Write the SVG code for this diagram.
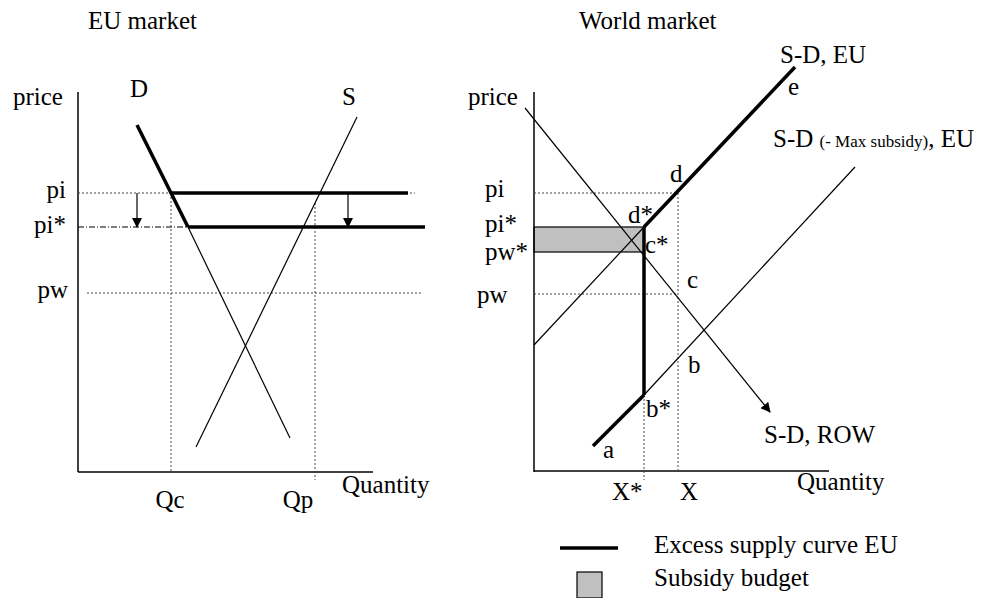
<svg xmlns="http://www.w3.org/2000/svg" width="994" height="598" viewBox="0 0 994 598">
<style>
text{font-family:"Liberation Serif","Times New Roman",serif;font-size:25px;fill:#000}
.small{font-size:17px}
.ax{stroke:#000;stroke-width:1.5;fill:none}
.thin{stroke:#000;stroke-width:1.2;fill:none}
.thick{stroke:#000;stroke-width:3.5;fill:none;stroke-linecap:butt}
.dot{stroke:#444;stroke-width:1;stroke-dasharray:2,2;fill:none}
.dash{stroke:#000;stroke-width:1;stroke-dasharray:6,2,1,2;fill:none}
</style>
<defs>
<marker id="ah" markerWidth="10" markerHeight="10" refX="9" refY="5" orient="auto" markerUnits="userSpaceOnUse">
<path d="M0,0 L10,5 L0,10 z" fill="#000"/>
</marker>
</defs>
<rect width="994" height="598" fill="#fff"/>

<g id="eu-market">
<text x="88" y="29">EU market</text>
<line class="ax" x1="78" y1="92" x2="78" y2="472"/>
<line class="ax" x1="78" y1="472" x2="373" y2="472"/>
<text x="13" y="105">price</text>
<text x="342" y="493">Quantity</text>
<text x="130" y="97">D</text>
<text x="342" y="105">S</text>
<text x="66" y="198" text-anchor="end">pi</text>
<text x="66" y="233" text-anchor="end">pi*</text>
<text x="68" y="298" text-anchor="end">pw</text>
<text x="170" y="508" text-anchor="middle">Qc</text>
<text x="298" y="508" text-anchor="middle">Qp</text>
<line class="dot" x1="78" y1="193" x2="415" y2="193"/>
<line class="dash" x1="78" y1="227" x2="188" y2="227"/>
<line class="dot" x1="87" y1="293" x2="423" y2="293"/>
<line class="dot" x1="171" y1="193" x2="171" y2="472"/>
<line class="dot" x1="315" y1="203" x2="315" y2="480"/>
<line class="thin" x1="188" y1="227" x2="290" y2="438"/>
<line class="thin" x1="357" y1="117" x2="196" y2="447"/>
<line class="thick" x1="137" y1="125" x2="188" y2="227"/>
<line class="thick" x1="172" y1="193" x2="408" y2="193"/>
<line class="thick" x1="188" y1="227" x2="425" y2="227"/>
<line class="thin" x1="137" y1="193" x2="137" y2="227" marker-end="url(#ah)"/>
<line class="thin" x1="348" y1="193" x2="348" y2="227" marker-end="url(#ah)"/>
</g>

<g id="world-market">
<text x="579" y="29">World market</text>
<rect x="534" y="227" width="110" height="25" fill="#c0c0c0" stroke="#000" stroke-width="1.2"/>
<line class="ax" x1="534" y1="92" x2="534" y2="472"/>
<line class="ax" x1="534" y1="471" x2="829" y2="471"/>
<text x="468" y="105">price</text>
<text x="797" y="490">Quantity</text>
<text x="485" y="197">pi</text>
<text x="485" y="232">pi*</text>
<text x="485" y="260">pw*</text>
<text x="477" y="303">pw</text>
<line class="dot" x1="534" y1="193" x2="678" y2="193"/>
<line class="dot" x1="534" y1="294" x2="678" y2="294"/>
<line class="dot" x1="678" y1="193" x2="678" y2="472"/>
<line class="dot" x1="644" y1="395" x2="644" y2="480"/>
<line class="thin" x1="525" y1="108" x2="770" y2="412" marker-end="url(#ah)"/>
<line class="thin" x1="534" y1="345" x2="644" y2="227"/>
<line class="thin" x1="644" y1="395" x2="855" y2="167"/>
<line class="thick" x1="644" y1="227" x2="795" y2="67"/>
<line class="thick" x1="644" y1="227" x2="644" y2="395"/>
<line class="thick" x1="644" y1="395" x2="593" y2="446"/>
<text x="670" y="182">d</text>
<text x="628" y="223">d*</text>
<text x="645" y="253">c*</text>
<text x="687" y="288">c</text>
<text x="688" y="373">b</text>
<text x="646" y="417">b*</text>
<text x="603" y="458">a</text>
<text x="788" y="95">e</text>
<text x="780" y="63">S-D, EU</text>
<text x="773" y="147">S-D <tspan class="small">(- Max subsidy)</tspan>, EU</text>
<text x="764" y="443">S-D, ROW</text>
<text x="612" y="500">X*</text>
<text x="680" y="500">X</text>
</g>

<g id="legend">
<line class="thick" x1="560" y1="548" x2="618" y2="548"/>
<text x="654" y="553">Excess supply curve EU</text>
<rect x="577" y="572" width="25" height="26" fill="#c0c0c0" stroke="#000" stroke-width="1.2"/>
<text x="654" y="586">Subsidy budget</text>
</g>
</svg>
